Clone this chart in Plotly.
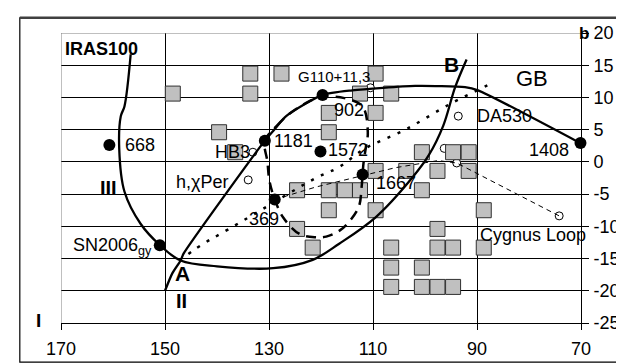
import plotly.graph_objects as go

# ---------------- data ----------------
x_ticks = [170, 150, 130, 110, 90, 70]
y_ticks = [-25, -20, -15, -10, -5, 0, 5, 10, 15, 20]

# gray squares (IRAS100 clouds)
sq_l = [148.5, 139.6, 136.5, 133.6, 133.6, 127.6, 109.5, 112.5, 106.5, 118.5, 109.5, 118.5,
        100.6, 94.6, 91.6, 109.5, 103.6, 97.6, 91.6, 124.6, 118.5, 115.4, 112.5, 100.6,
        118.5, 109.5, 88.7, 124.6, 97.6, 121.6, 106.5, 97.6, 94.6, 88.7, 106.5, 100.6,
        106.5, 100.6, 97.6, 94.6]
sq_b = [10.6, 4.6, 1.5, 13.7, 10.6, 13.7, 13.7, 10.6, 10.6, 7.6, 7.6, 4.6,
        1.5, 1.5, 1.5, -1.4, -1.4, -1.4, -1.4, -4.4, -4.4, -4.4, -4.4, -4.4,
        -7.5, -7.5, -7.5, -10.4, -10.4, -13.3, -13.3, -13.3, -13.3, -13.3, -16.4, -16.4,
        -19.4, -19.4, -19.4, -19.4]

# black dots
dot_names = ["668", "1181", "1572", "902", "1667", "369", "SN2006gy", "1408"]
dot_l = [160.7, 130.8, 120.1, 119.7, 112.0, 128.9, 151.0, 70.1]
dot_b = [2.62, 3.28, 1.6, 10.38, -1.94, -5.84, -12.94, 2.93]

# open circles
oc_names = ["G110+11,3", "HB3", "h,χPer", "DA530", "", "", "Cygnus Loop"]
oc_l = [110.5, 133.1, 134.0, 93.6, 96.3, 93.9, 74.2]
oc_b = [11.5, 1.5, -2.8, 7.1, 2.1, -0.17, -8.38]

# curve III / B (U-shaped solid)
c3_l = [156.6, 157.8, 158.5, 158.8, 157.8, 154.7, 151.0, 147.0, 140.0, 129.2,
        121.6, 116.5, 109.5, 102.5, 99.3, 96.5, 94.2, 92.0]
c3_b = [16.7, 8.6, 7.1, 2.0, -4.6, -9.6, -12.9, -15.3, -16.2, -16.5,
        -15.2, -12.7, -8.6, -2.5, 1.0, 5.6, 11.6, 15.9]

# curve II (solid, from bottom through 1181, 902 to 1408)
c2_l = [150.0, 148.6, 147.0, 146.4, 130.8, 129.2, 126.7, 119.7, 114.0, 101.9, 92.3, 89.8, 70.1]
c2_b = [-20.0, -17.3, -15.3, -14.2, 3.3, 4.8, 7.1, 10.4, 11.1, 11.8, 11.6, 11.1, 2.9]

# dashed closed contour
el_l = [130.8, 128.5, 126.0, 122.5, 119.7, 115.5, 112.0, 111.0, 111.4, 111.8, 112.0, 112.2,
        112.7, 114.5, 116.5, 119.0, 121.0, 124.1, 127.3, 128.9, 129.9, 130.3, 130.8]
el_b = [3.3, 5.6, 7.5, 9.3, 10.1, 9.9, 8.6, 4.6, 2.1, 0.0, -1.9, -4.0,
        -6.9, -9.2, -10.7, -11.6, -11.7, -11.2, -8.6, -5.8, -3.0, 0.0, 3.3]

# dotted line towards GB
gb_l = [145.5, 144.5, 142.0, 139.4, 131.8, 121.0, 116.5, 111.7, 103.8, 94.9, 86.6]
gb_b = [-14.3, -13.7, -12.4, -11.2, -7.6, -2.5, -0.8, 2.0, 5.0, 9.1, 12.4]

# thin dashed line to Cygnus Loop
cy_l = [128.9, 121.0, 105.7, 97.5, 93.9, 74.2]
cy_b = [-5.84, -3.9, -0.9, 0.2, -0.17, -8.38]

FONT = "Liberation Sans, Arial, sans-serif"

fig = go.Figure()

# open circles (under squares)
fig.add_trace(go.Scatter(x=oc_l, y=oc_b, mode="markers",
                         marker=dict(symbol="circle", size=8, color="white",
                                     line=dict(color="black", width=1)),
                         cliponaxis=False))
# squares
fig.add_trace(go.Scatter(x=sq_l, y=sq_b, mode="markers",
                         marker=dict(symbol="square", size=15, color="#c0c0c0",
                                     line=dict(color="#303030", width=1))))
# thin dashed
fig.add_trace(go.Scatter(x=cy_l, y=cy_b, mode="lines",
                         line=dict(color="black", width=1, dash="5px,4px")))
# dotted GB
fig.add_trace(go.Scatter(x=gb_l, y=gb_b, mode="lines", line_shape="spline",
                         line=dict(color="black", width=2.5, dash="3px,8px")))
# dashed contour
fig.add_trace(go.Scatter(x=el_l, y=el_b, mode="lines", line_shape="spline",
                         line=dict(color="black", width=2.5, dash="10px,7px")))
# solid curves
fig.add_trace(go.Scatter(x=c3_l, y=c3_b, mode="lines", line_shape="spline",
                         line=dict(color="black", width=2.3, smoothing=1.0)))
fig.add_trace(go.Scatter(x=c2_l, y=c2_b, mode="lines", line_shape="spline",
                         line=dict(color="black", width=2.3, smoothing=0.6)))
# black dots
fig.add_trace(go.Scatter(x=dot_l, y=dot_b, mode="markers",
                         marker=dict(symbol="circle", size=12, color="black"),
                         cliponaxis=False))

# ---------------- annotations ----------------
ann = []
def lab(text, x, y, xa="left", size=18, bold=False, ref="data"):
    if bold:
        text = "<b>" + text + "</b>"
    d = dict(text=text, x=x, y=y, xanchor=xa, yanchor="middle", showarrow=False,
             font=dict(family=FONT, size=size, color="black"))
    if ref == "paper":
        d.update(xref="paper", yref="paper")
    else:
        d.update(xref="x", yref="y")
    ann.append(d)

lab("668", 158.0, 2.55)
lab("1181", 129.5, 3.3)
lab("1572", 119.0, 1.8)
lab("902", 117.9, 8.1)
lab("1667", 109.8, -3.2)
lab("369", 127.6, -8.9, xa="right")
lab("SN2006<sub>gy</sub>", 152.1, -13.2, xa="right")
lab("1408", 71.85, 1.9, xa="right")
lab("HB3", 140.7, 1.5)
lab("h,χPer", 148.3, -3.06)
lab("G110+11,3", 124.9, 13.3, size=15)
lab("DA530", 90.4, 7.1)
lab("Cygnus Loop", 89.8, -11.3)
lab("GB", 79.45, 12.9, xa="center", size=22)
lab("B", 94.9, 15.06, xa="center", size=21, bold=True)
lab("A", 146.6, -17.3, xa="center", size=21, bold=True)
lab("II", 146.9, -21.65, xa="center", size=20, bold=True)
lab("III", 160.9, -4.0, xa="center", size=20, bold=True)
lab("IRAS100", 169.7, 17.46, size=18, bold=True)
lab("b", (580 - 53) / 524, (321 - 26) / 296, xa="center", size=17, bold=True, ref="paper")
lab("I", (30.8 - 53) / 524, (321 - 318.3) / 296, xa="center", size=19, bold=True, ref="paper")

shapes = [
    # gray plot-area border (top, left)
    dict(type="line", xref="x", yref="y", x0=170, x1=70, y0=20, y1=20,
         line=dict(color="#808080", width=1)),
    dict(type="line", xref="x", yref="y", x0=170, x1=170, y0=-25, y1=20,
         line=dict(color="#808080", width=1)),
    # outer frame
    dict(type="rect", xref="paper", yref="paper", layer="above",
         x0=(11.5 - 53) / 524, x1=(621.5 - 53) / 524,
         y0=(321 - 361) / 296, y1=(321 - 9.5) / 296,
         line=dict(color="black", width=1.2)),
    dict(type="line", xref="paper", yref="paper", layer="above",
         x0=(11.5 - 53) / 524, x1=(621.5 - 53) / 524,
         y0=(321 - 9.5) / 296, y1=(321 - 9.5) / 296,
         line=dict(color="#404040", width=2.5)),
]

fig.update_layout(
    width=624, height=363, autosize=False,
    margin=dict(l=53, r=47, t=25, b=42, pad=0),
    plot_bgcolor="white", paper_bgcolor="white",
    showlegend=False,
    font=dict(family=FONT, size=18, color="black"),
    annotations=ann, shapes=shapes,
    xaxis=dict(range=[170, 70], tickvals=x_ticks, ticktext=[str(v) for v in x_ticks],
               ticks="outside", ticklen=6, tickcolor="black", tickwidth=1,
               showline=True, linecolor="black", linewidth=1,
               showgrid=True, gridcolor="black", gridwidth=1, zeroline=False,
               ticklabelstandoff=3,
               tickfont=dict(family=FONT, size=18, color="black"), fixedrange=True),
    yaxis=dict(range=[-25, 20], side="right", tickvals=y_ticks,
               ticktext=[str(v) for v in y_ticks],
               ticks="outside", ticklen=7, tickcolor="black", tickwidth=1,
               showline=True, linecolor="black", linewidth=1,
               showgrid=True, gridcolor="black", gridwidth=1, zeroline=False,
               ticklabelstandoff=1,
               tickfont=dict(family=FONT, size=18, color="black"), fixedrange=True),
)

fig.write_html("out.html", config={"displayModeBar": False})
